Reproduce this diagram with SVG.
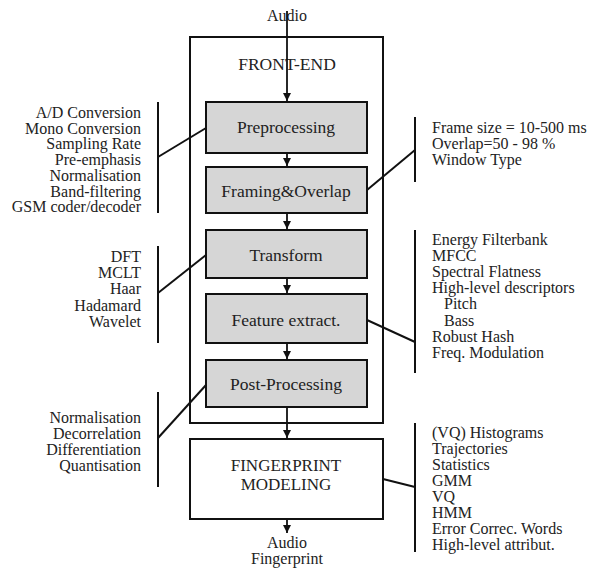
<svg xmlns="http://www.w3.org/2000/svg" width="595" height="568" viewBox="0 0 595 568">
<defs>
<marker id="arr" viewBox="0 0 10 10" refX="10" refY="5" markerWidth="4.5" markerHeight="4.5" orient="auto" markerUnits="strokeWidth"><path d="M0,0 L10,5 L0,10 z" fill="#111"/></marker>
<style>
text{font-family:"Liberation Serif","Times New Roman",serif;fill:#222}
.lbl{font-size:17.5px;text-anchor:middle}
.lst{font-size:16px}
.r{text-anchor:end}
.box{fill:#d6d6d6;stroke:#111;stroke-width:2}
.wbox{fill:none;stroke:#111;stroke-width:2}
.ln{stroke:#111;stroke-width:2;fill:none}
.ar{stroke:#111;stroke-width:1.8;fill:none;marker-end:url(#arr)}
</style>
</defs>
<rect width="595" height="568" fill="#fff"/>
<g id="frontend">
<rect class="wbox" x="190" y="37" width="193" height="386"/>
<text class="lbl" x="287" y="70">FRONT-END</text>
</g>
<g id="preprocessing">
<rect class="box" x="206" y="102" width="161" height="51"/>
<text class="lbl" x="286" y="133">Preprocessing</text>
</g>
<g id="framing">
<rect class="box" x="206" y="167" width="161" height="46"/>
<text class="lbl" x="286" y="197">Framing&amp;Overlap</text>
</g>
<g id="transform">
<rect class="box" x="206" y="230" width="161" height="48"/>
<text class="lbl" x="286" y="261">Transform</text>
</g>
<g id="feature">
<rect class="box" x="206" y="294" width="161" height="49"/>
<text class="lbl" x="286" y="326">Feature extract.</text>
</g>
<g id="postprocessing">
<rect class="box" x="206" y="360" width="161" height="47"/>
<text class="lbl" x="286" y="390">Post-Processing</text>
</g>
<g id="modeling">
<rect class="wbox" x="190" y="439" width="193" height="80"/>
<text class="lbl" x="286" y="470.5" style="font-size:17px">FINGERPRINT</text>
<text class="lbl" x="286" y="489.5" style="font-size:17px">MODELING</text>
</g>
<g id="audio-in"><text class="lst" x="287" y="21" text-anchor="middle">Audio</text></g>
<g id="audio-out">
<text class="lst" x="287" y="548" text-anchor="middle">Audio</text>
<text class="lst" x="287" y="564" text-anchor="middle">Fingerprint</text>
</g>
<g id="list-pre">
<text class="lst r" x="141" y="118">A/D Conversion</text>
<text class="lst r" x="141" y="133.7">Mono Conversion</text>
<text class="lst r" x="141" y="149.4">Sampling Rate</text>
<text class="lst r" x="141" y="165.1">Pre-emphasis</text>
<text class="lst r" x="141" y="180.8">Normalisation</text>
<text class="lst r" x="141" y="196.5">Band-filtering</text>
<text class="lst r" x="141" y="212.2">GSM coder/decoder</text>
</g>
<g id="list-transform">
<text class="lst r" x="141" y="262">DFT</text>
<text class="lst r" x="141" y="278.2">MCLT</text>
<text class="lst r" x="141" y="294.4">Haar</text>
<text class="lst r" x="141" y="310.6">Hadamard</text>
<text class="lst r" x="141" y="326.8">Wavelet</text>
</g>
<g id="list-post">
<text class="lst r" x="141" y="423">Normalisation</text>
<text class="lst r" x="141" y="439">Decorrelation</text>
<text class="lst r" x="141" y="455">Differentiation</text>
<text class="lst r" x="141" y="471">Quantisation</text>
</g>
<g id="list-framing">
<text class="lst" x="432" y="133">Frame size = 10-500 ms</text>
<text class="lst" x="432" y="149">Overlap=50 - 98 %</text>
<text class="lst" x="432" y="165">Window Type</text>
</g>
<g id="list-feature">
<text class="lst" x="432" y="245">Energy Filterbank</text>
<text class="lst" x="432" y="261.1">MFCC</text>
<text class="lst" x="432" y="277.2">Spectral Flatness</text>
<text class="lst" x="432" y="293.3">High-level descriptors</text>
<text class="lst" x="444" y="309.4">Pitch</text>
<text class="lst" x="444" y="325.5">Bass</text>
<text class="lst" x="432" y="341.6">Robust Hash</text>
<text class="lst" x="432" y="357.7">Freq. Modulation</text>
</g>
<g id="list-model">
<text class="lst" x="432" y="438">(VQ) Histograms</text>
<text class="lst" x="432" y="454">Trajectories</text>
<text class="lst" x="432" y="470">Statistics</text>
<text class="lst" x="432" y="486">GMM</text>
<text class="lst" x="432" y="502">VQ</text>
<text class="lst" x="432" y="518">HMM</text>
<text class="lst" x="432" y="534">Error Correc. Words</text>
<text class="lst" x="432" y="550">High-level attribut.</text>
</g>
<g id="connectors">
<line class="ar" x1="287" y1="11" x2="287" y2="101"/>
<line class="ar" x1="287" y1="154" x2="287" y2="166"/>
<line class="ar" x1="287" y1="214" x2="287" y2="229"/>
<line class="ar" x1="287" y1="279" x2="287" y2="293"/>
<line class="ar" x1="287" y1="344" x2="287" y2="359"/>
<line class="ar" x1="287" y1="408" x2="287" y2="438"/>
<line class="ar" x1="287" y1="520" x2="287" y2="533"/>
<line class="ln" x1="158" y1="102" x2="158" y2="213"/>
<line class="ln" x1="158" y1="157" x2="206" y2="128"/>
<line class="ln" x1="158" y1="246" x2="158" y2="343"/>
<line class="ln" x1="158" y1="293" x2="206" y2="255"/>
<line class="ln" x1="158" y1="392" x2="158" y2="487"/>
<line class="ln" x1="158" y1="438" x2="206" y2="385"/>
<line class="ln" x1="415" y1="117" x2="415" y2="182"/>
<line class="ln" x1="415" y1="150" x2="367" y2="190"/>
<line class="ln" x1="415" y1="230" x2="415" y2="373"/>
<line class="ln" x1="415" y1="342" x2="367" y2="320"/>
<line class="ln" x1="415" y1="423" x2="415" y2="552"/>
<line class="ln" x1="415" y1="487" x2="383" y2="479"/>
</g>
</svg>
